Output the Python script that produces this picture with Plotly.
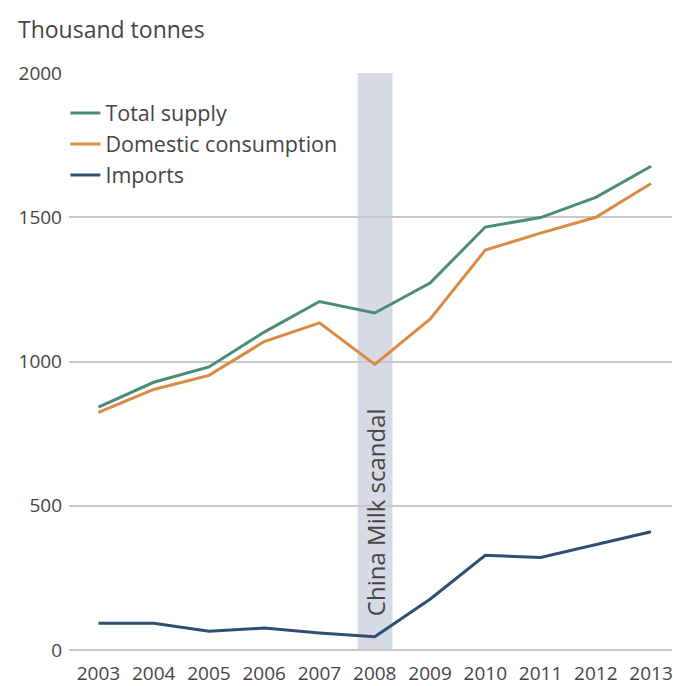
import plotly.graph_objects as go

years = [2003, 2004, 2005, 2006, 2007, 2008, 2009, 2010, 2011, 2012, 2013]
total_supply = [842, 928, 981, 1102, 1208, 1168, 1272, 1466, 1499, 1569, 1677]
domestic_consumption = [824, 903, 952, 1069, 1134, 990, 1147, 1386, 1445, 1500, 1617]
imports = [93, 93, 65, 76, 59, 46, 176, 328, 321, 366, 410]

series_names = ["Total supply", "Domestic consumption", "Imports"]
series_colors = ["#4b8c78", "#d98a45", "#2f4f72"]
band_range = [2007.69, 2008.32]
band_label = "China Milk scandal"
y_ticks = [0, 500, 1000, 1500, 2000]

font = "Open Sans"
txt = "#454545"

fig = go.Figure()
for name, vals, col in zip(series_names, [total_supply, domestic_consumption, imports], series_colors):
    fig.add_trace(go.Scatter(x=years, y=vals, mode="lines", name=name,
                             line=dict(color=col, width=3)))

fig.add_vrect(x0=band_range[0], x1=band_range[1], fillcolor="#d6dae5", opacity=1,
              line_width=0, layer="below")

fig.add_annotation(x=sum(band_range) / 2, y=478, text=band_label, textangle=-90,
                   showarrow=False, font=dict(family=font, size=24, color=txt),
                   xref="x", yref="y")

fig.add_annotation(x=0, y=1, xref="paper", yref="paper", xanchor="left", yanchor="middle",
                   text="Thousand tonnes", showarrow=False,
                   font=dict(family=font, size=23, color=txt),
                   xshift=-53, yshift=44)

fig.update_layout(
    width=673, height=686,
    margin=dict(l=69, r=0, t=73, b=34, pad=0),
    paper_bgcolor="white", plot_bgcolor="white",
    font=dict(family=font, color=txt),
    showlegend=True,
    legend=dict(x=-0.006, y=0.966, xanchor="left", yanchor="top",
                font=dict(family=font, size=21.5, color=txt),
                bgcolor="rgba(0,0,0,0)", itemwidth=30, tracegroupgap=0),
    xaxis=dict(range=[2002.467, 2013.379], tickvals=years, ticktext=[str(y) for y in years],
               showgrid=False, zeroline=False, showline=False,
               tickfont=dict(family=font, size=19, color=txt), ticks="",
               ticklabelstandoff=10, ticklabeloverflow="allow"),
    yaxis=dict(range=[0, 2000], tickvals=y_ticks, showgrid=True, gridcolor="#c8c8c8",
               gridwidth=2, zeroline=True, zerolinecolor="#c8c8c8", zerolinewidth=2,
               showline=False, ticks="", ticklabelstandoff=6,
               tickfont=dict(family=font, size=19, color=txt)),
)

# remove the browser's default 8px body margin so the figure fills the window exactly
fig.write_html("out.html", config={"displayModeBar": False},
               post_script="document.body.style.margin='0';")
